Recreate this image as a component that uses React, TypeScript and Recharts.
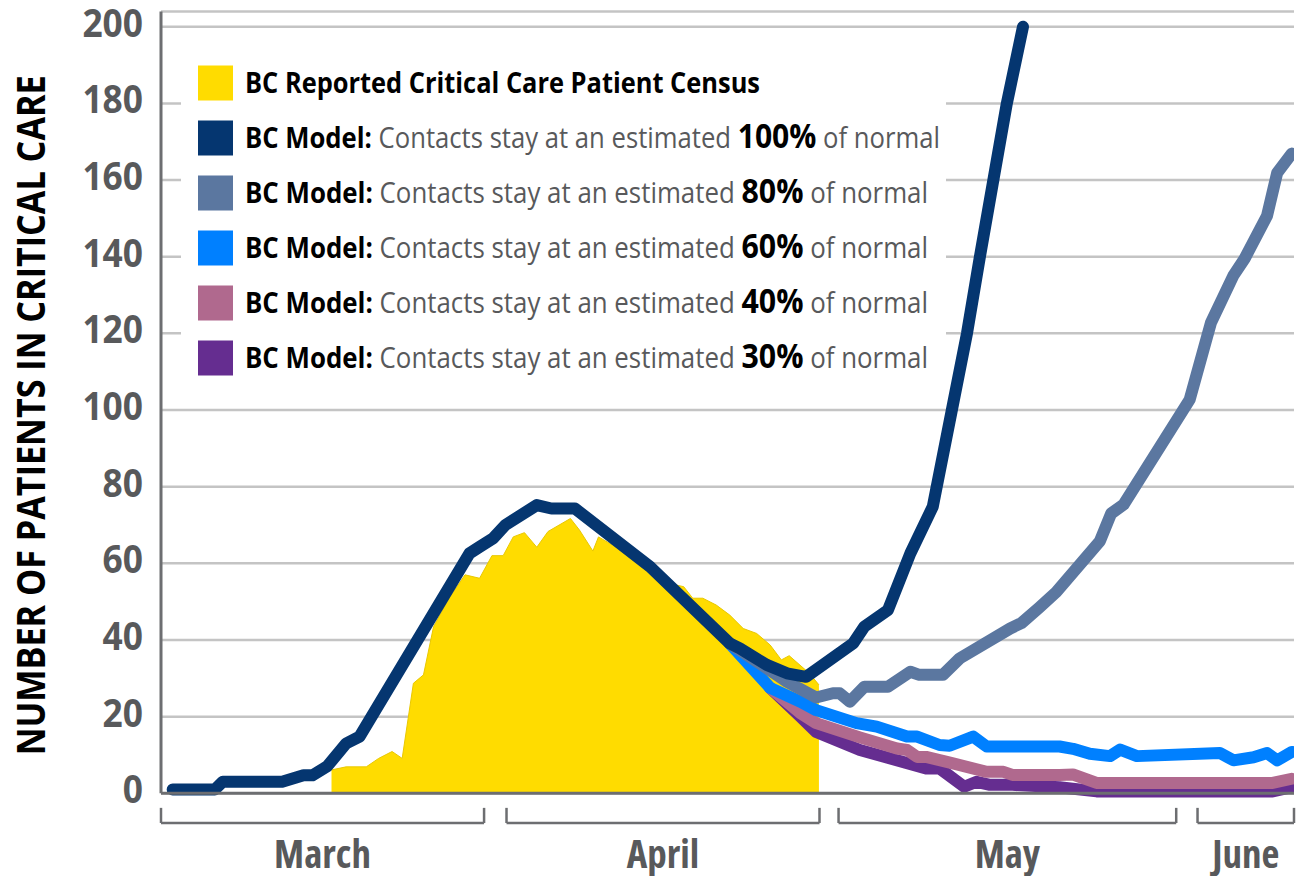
import React from 'react';
import { ComposedChart, Line, Area, XAxis, YAxis, CartesianGrid, Legend, ReferenceLine } from 'recharts';

// day index: 0 = start of March
const yTicks = [0, 20, 40, 60, 80, 100, 120, 140, 160, 180, 200];

const months = [
  { name: 'March', start: 0, end: 28.8 },
  { name: 'April', start: 30.8, end: 58.7 },
  { name: 'May', start: 60.4, end: 90.5 },
  { name: 'June', start: 92.4, end: 101 },
];

const reportedCensus = [
  { d: 15.2, v: 6.1 }, { d: 16.5, v: 6.9 }, { d: 18.3, v: 6.9 }, { d: 19.4, v: 9.1 },
  { d: 20.6, v: 10.9 }, { d: 21.5, v: 9.1 }, { d: 22.5, v: 28.7 }, { d: 23.4, v: 30.9 },
  { d: 24.3, v: 43.5 }, { d: 25.7, v: 51 }, { d: 27.1, v: 57 }, { d: 28.4, v: 56.1 },
  { d: 29.5, v: 62 }, { d: 30.5, v: 62 }, { d: 31.4, v: 66.9 }, { d: 32.4, v: 68 },
  { d: 33.5, v: 64.2 }, { d: 34.5, v: 68.3 }, { d: 36.5, v: 71.7 }, { d: 37.3, v: 68.7 },
  { d: 38.5, v: 63.2 }, { d: 39, v: 66.9 }, { d: 41, v: 63.5 }, { d: 44, v: 57.5 },
  { d: 46, v: 54.3 }, { d: 46.6, v: 53.9 }, { d: 47.4, v: 50.9 }, { d: 48.3, v: 50.9 },
  { d: 49.5, v: 49.1 }, { d: 50.7, v: 46.5 }, { d: 51.9, v: 43 }, { d: 53.1, v: 41.7 },
  { d: 54.3, v: 38.7 }, { d: 55.3, v: 34.8 }, { d: 56, v: 35.9 }, { d: 57.8, v: 31.3 },
  { d: 58.65, v: 28.3 },
];

const model100 = [
  { d: 1.04, v: 1 }, { d: 4.8, v: 1 }, { d: 5.5, v: 3 }, { d: 10.8, v: 3 },
  { d: 12.7, v: 4.7 }, { d: 13.5, v: 4.7 }, { d: 14.8, v: 7 }, { d: 16.5, v: 13 },
  { d: 17.7, v: 14.8 }, { d: 27.5, v: 62.6 }, { d: 28.4, v: 64.3 }, { d: 29.6, v: 66.5 },
  { d: 30.7, v: 70 }, { d: 33.5, v: 75.2 }, { d: 34.8, v: 74.3 }, { d: 36.9, v: 74.3 },
  { d: 43.6, v: 59.1 }, { d: 50.7, v: 39.1 }, { d: 51.6, v: 37.8 }, { d: 54, v: 33.5 },
  { d: 55.8, v: 31.3 }, { d: 57.5, v: 30.4 }, { d: 61.7, v: 39.1 }, { d: 62.7, v: 43.5 },
  { d: 64.8, v: 47.8 }, { d: 66.8, v: 62.6 }, { d: 68.8, v: 74.8 }, { d: 70.5, v: 100 },
  { d: 71.85, v: 120 }, { d: 73.0, v: 140 }, { d: 74.2, v: 160 }, { d: 75.4, v: 180 },
  { d: 76.84, v: 200 },
];

const model80 = [
  { d: 50.7, v: 39.1 }, { d: 55.8, v: 29.1 }, { d: 58.4, v: 25 }, { d: 59.9, v: 26.1 },
  { d: 60.5, v: 26.1 }, { d: 61.4, v: 23.9 }, { d: 62.7, v: 27.8 }, { d: 64.8, v: 27.8 },
  { d: 66.8, v: 31.7 }, { d: 67.6, v: 30.9 }, { d: 69.7, v: 30.9 }, { d: 71.2, v: 35.2 },
  { d: 75.7, v: 43 }, { d: 76.7, v: 44.4 }, { d: 78.3, v: 48.5 }, { d: 79.8, v: 52.5 },
  { d: 83.7, v: 65.8 }, { d: 84.7, v: 73 }, { d: 85.8, v: 75.3 }, { d: 91.7, v: 102.7 },
  { d: 93.6, v: 122.8 }, { d: 95.6, v: 135.1 }, { d: 96.6, v: 139.5 }, { d: 98.6, v: 150.7 },
  { d: 99.5, v: 161.9 }, { d: 100.8, v: 166.9 },
];

const model60 = [
  { d: 50.7, v: 39.1 }, { d: 54.3, v: 27.5 }, { d: 57, v: 23.9 }, { d: 58.4, v: 21.7 },
  { d: 62, v: 18.3 }, { d: 63.8, v: 17.4 }, { d: 66.5, v: 14.8 }, { d: 67.4, v: 14.8 },
  { d: 69.4, v: 12.6 }, { d: 70.3, v: 12.4 }, { d: 72.4, v: 14.8 }, { d: 73.6, v: 12.2 },
  { d: 80.1, v: 12.2 }, { d: 81.3, v: 11.6 }, { d: 82.8, v: 10.3 }, { d: 84.6, v: 9.7 },
  { d: 85.5, v: 11.4 }, { d: 87, v: 9.7 }, { d: 94.4, v: 10.5 }, { d: 95.6, v: 8.6 },
  { d: 97.4, v: 9.4 }, { d: 98.6, v: 10.5 }, { d: 99.5, v: 8.6 }, { d: 100.8, v: 10.8 },
];

const model40 = [
  { d: 54.3, v: 27.5 }, { d: 57, v: 20.9 }, { d: 58.4, v: 18.3 }, { d: 62.3, v: 14.6 },
  { d: 65.6, v: 11.7 }, { d: 66.5, v: 11.3 }, { d: 67.4, v: 9.5 }, { d: 68.2, v: 9.5 },
  { d: 70.6, v: 7.8 }, { d: 73.6, v: 5.6 }, { d: 75.1, v: 5.6 }, { d: 75.9, v: 4.8 },
  { d: 80.1, v: 4.8 }, { d: 81.3, v: 4.9 }, { d: 83.4, v: 2.7 }, { d: 99.1, v: 2.7 },
  { d: 100.8, v: 3.8 },
];

const model30 = [
  { d: 54.3, v: 27.5 }, { d: 57, v: 20 }, { d: 58.4, v: 16 }, { d: 62.3, v: 11.3 },
  { d: 68.2, v: 6.5 }, { d: 69.4, v: 6.5 }, { d: 71.6, v: 1.7 }, { d: 72.7, v: 3 },
  { d: 73.9, v: 2.2 }, { d: 75.9, v: 2.2 }, { d: 80.1, v: 1.6 }, { d: 83.4, v: 0.5 },
  { d: 99.1, v: 0.5 }, { d: 100.8, v: 1.6 },
];

const FONT = '"Open Sans", "Noto Sans", sans-serif';
const GRAY = '#58595B';
const AXIS = '#6D6E71';

const YELLOW = '#FFDC00';
const modelRows = [
  { key: '100', pct: '100%', color: '#053670', data: model100, w: 695 },
  { key: '80', pct: '80%', color: '#5B77A0', data: model80, w: 683 },
  { key: '60', pct: '60%', color: '#0080FF', data: model60, w: 683 },
  { key: '40', pct: '40%', color: '#B0698E', data: model40, w: 683 },
  { key: '30', pct: '30%', color: '#652D90', data: model30, w: 683 },
];

// digits in the original are a little narrower than Open Sans Bold
const YTick = (props: any) => {
  const { x, y, payload } = props;
  const label = String(payload.value);
  return (
    <text x={x - 10} y={y} dy={10} textAnchor="end" fontFamily={FONT} fontWeight={700}
      fontSize={39} fill={GRAY} textLength={label.length * 20.2} lengthAdjust="spacingAndGlyphs">
      {label}
    </text>
  );
};

const MonthTick = (props: any) => {
  const { x, y, payload } = props;
  const m = months.find((mm) => (mm.start + mm.end) / 2 === payload.value);
  return (
    <text x={x} y={y} dy={67} textAnchor="middle" fontFamily={FONT} fontWeight={700}
      fontSize={39} fill={GRAY} style={{ fontStretch: '84%' }}>
      {m ? m.name : ''}
    </text>
  );
};

const YTitle = (props: any) => {
  const vb = props.viewBox || { x: 0, y: 0, height: 0 };
  const cx = vb.x + 31;
  const cy = vb.y + vb.height / 2 + 13;
  return (
    <text x={cx} y={cy} dy="0.36em" transform={`rotate(-90 ${cx} ${cy})`} textAnchor="middle"
      fontFamily={FONT} fontWeight={700} fontSize={40} fill="#000"
      textLength={680} lengthAdjust="spacingAndGlyphs">
      NUMBER OF PATIENTS IN CRITICAL CARE
    </text>
  );
};

const LegendBox = () => {
  const rowY = (i: number) => 38 + i * 55;
  return (
    <div style={{ background: '#fff', width: 765, height: 350 }}>
      <svg width={765} height={350}>
        <rect x={17} y={rowY(0) - 17.5} width={35} height={35} fill={YELLOW} />
        <text x={64} y={rowY(0) + 10} fontFamily={FONT} fontWeight={700} fontSize={29} fill="#000"
          textLength={515} lengthAdjust="spacingAndGlyphs">
          BC Reported Critical Care Patient Census
        </text>
        {modelRows.map((r, i) => (
          <g key={r.key}>
            <rect x={17} y={rowY(i + 1) - 17.5} width={35} height={35} fill={r.color} />
            <text x={64} y={rowY(i + 1) + 10} fontFamily={FONT} fontSize={29}
              textLength={r.w} lengthAdjust="spacingAndGlyphs" style={{ whiteSpace: 'pre' }}>
              <tspan fontWeight={700} fill="#000">BC Model:</tspan>
              <tspan fill={GRAY}> Contacts stay at an estimated </tspan>
              <tspan fontWeight={700} fill="#000" fontSize={34}>{r.pct}</tspan>
              <tspan fill={GRAY}> of normal</tspan>
            </text>
          </g>
        ))}
      </svg>
    </div>
  );
};

export default function App() {
  const mids = months.map((m) => (m.start + m.end) / 2);
  const bracketTop = -3.8;
  const bracketBottom = -7.75;
  return (
    <div style={{ position: 'absolute', left: 0, top: 0, width: 1307, height: 876, background: '#fff' }}>
      <ComposedChart width={1307} height={876} margin={{ top: 11.4, right: 13, bottom: 12.7, left: 0 }}>
        <CartesianGrid vertical={false} stroke="#C4C4C4" strokeWidth={2.5} />
        <XAxis type="number" dataKey="d" domain={[0, 101]} ticks={mids} tick={<MonthTick />}
          tickLine={false} axisLine={{ stroke: AXIS, strokeWidth: 3 }} height={70}
          allowDataOverflow interval={0} />
        <YAxis type="number" domain={[0, 204]} ticks={yTicks} tick={<YTick />} tickLine={false}
          axisLine={{ stroke: AXIS, strokeWidth: 3 }} width={161} interval={0}
          label={{ content: <YTitle /> }} />
        <Legend layout="vertical" align="center" verticalAlign="middle"
          wrapperStyle={{ left: 181, top: 45, width: 765, height: 350 }}
          content={() => <LegendBox />} />
        <Area data={reportedCensus} dataKey="v" type="linear" fill={YELLOW} fillOpacity={1}
          stroke="#E9C800" strokeWidth={1} isAnimationActive={false} name="BC Reported Critical Care Patient Census" />
        {[...modelRows].reverse().map((r) => (
          <Line key={r.key} data={r.data} dataKey="v" type="linear" stroke={r.color}
            strokeWidth={12} dot={false} activeDot={false} strokeLinecap="round"
            strokeLinejoin="round" isAnimationActive={false} name={`Model ${r.pct}`} />
        ))}
        {months.map((m) => (
          <React.Fragment key={m.name}>
            <ReferenceLine segment={[{ x: m.start, y: bracketTop }, { x: m.start, y: bracketBottom }]}
              stroke={AXIS} strokeWidth={2.5} ifOverflow="visible" />
            <ReferenceLine segment={[{ x: m.start, y: bracketBottom }, { x: m.end, y: bracketBottom }]}
              stroke={AXIS} strokeWidth={2.5} ifOverflow="visible" />
            <ReferenceLine segment={[{ x: m.end, y: bracketTop }, { x: m.end, y: bracketBottom }]}
              stroke={AXIS} strokeWidth={2.5} ifOverflow="visible" />
          </React.Fragment>
        ))}
      </ComposedChart>
    </div>
  );
}
